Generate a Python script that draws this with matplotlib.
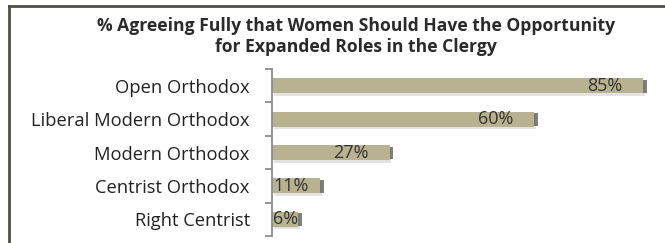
import matplotlib
matplotlib.use("Agg")
import matplotlib.pyplot as plt
from matplotlib.lines import Line2D
import matplotlib.transforms as mtransforms

categories = ["Open Orthodox", "Liberal Modern Orthodox", "Modern Orthodox",
              "Centrist Orthodox", "Right Centrist"]
values = [85, 60, 27, 11, 6]
value_labels = ["85%", "60%", "27%", "11%", "6%"]
title = "% Agreeing Fully that Women Should Have the Opportunity\nfor Expanded Roles in the Clergy"

W, H = 665, 243
fig = plt.figure(figsize=(W / 100, H / 100), dpi=100)
fig.patch.set_facecolor("white")

FONT = "Open Sans"

# outer frame (left and top only visible)
fig.add_artist(Line2D([9 / W, 9 / W], [0, 1 - 6 / H], transform=fig.transFigure,
                      color="#4f4f46", lw=2.0, solid_capstyle="projecting"))
fig.add_artist(Line2D([9 / W, 1.0], [1 - 6 / H, 1 - 6 / H], transform=fig.transFigure,
                      color="#4f4f46", lw=2.0, solid_capstyle="projecting"))

left, right = 272 / W, 1.0
top, bottom = 1 - 69 / H, 1 - 236 / H
ax = fig.add_axes([left, bottom, right - left, top - bottom])
ax.set_xlim(0, 90)
n = len(categories)
ax.set_ylim(n - 0.5, -0.5)

ypos = list(range(n))
bar_h = 0.45

# soft shadows
off2 = mtransforms.offset_copy(ax.transData, fig=fig, x=1.5, y=-2.5, units="dots")
for i, v in enumerate(values):
    ax.barh(ypos[i], v, height=bar_h, color="#c8c8c8", alpha=0.5,
            transform=off2, zorder=0.9, linewidth=0)
off = mtransforms.offset_copy(ax.transData, fig=fig, x=3.5, y=-0.5, units="dots")
for i, v in enumerate(values):
    ax.barh(ypos[i], v, height=bar_h * 0.85, color="#555555", alpha=0.75,
            transform=off, zorder=1, linewidth=0)

ax.barh(ypos, values, height=bar_h, color="#b9b290", zorder=2, linewidth=0)

for i, (v, lab) in enumerate(zip(values, value_labels)):
    if v >= 20:
        t = mtransforms.offset_copy(ax.transData, fig=fig, x=-21, y=0, units="dots")
        ax.text(v, ypos[i], lab, transform=t, ha="right", va="center",
                fontsize=13, family=FONT, color="#333333", zorder=3)
    else:
        t = mtransforms.offset_copy(ax.transData, fig=fig, x=1, y=0, units="dots")
        ax.text(0, ypos[i], lab, transform=t, ha="left", va="center",
                fontsize=13, family=FONT, color="#333333", zorder=3)

ax.set_yticks(ypos)
ax.set_yticklabels(categories, family=FONT, fontsize=13.2, color="#222222")
ax.tick_params(axis="y", which="major", length=0, pad=16)
ax.set_yticks([i - 0.5 for i in range(n + 1)], minor=True)
ax.tick_params(axis="y", which="minor", length=5, width=1.3, color="#8c8c8c")
ax.set_xticks([])

for s in ["top", "right", "bottom"]:
    ax.spines[s].set_visible(False)
ax.spines["left"].set_color("#8c8c8c")
ax.spines["left"].set_linewidth(1.3)
ax.patch.set_alpha(0)

fig.text(356 / W, 1 - 17 / H, title, ha="center", va="top", family=FONT,
         fontweight="bold", fontsize=12.6, color="#2a2a2a", linespacing=1.25)

fig.savefig("out.png", dpi=100, facecolor="white")
